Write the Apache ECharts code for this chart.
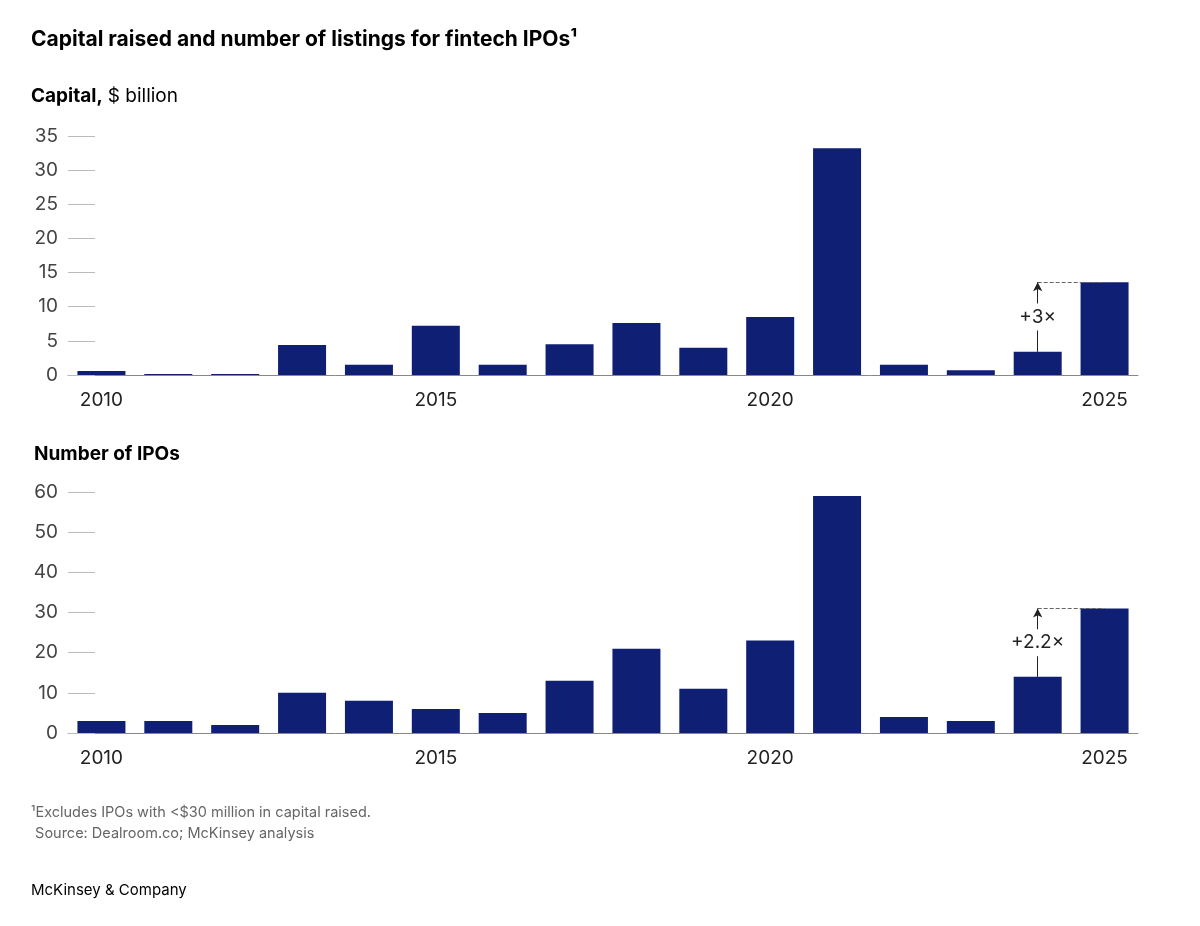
<!DOCTYPE html>
<html><head><meta charset="utf-8">
<script src="https://cdn.jsdelivr.net/npm/echarts@6/dist/echarts.min.js"></script>
<style>html,body{margin:0;background:#fff}#c{width:1200px;height:926px}</style>
</head><body><div id="c"></div>
<script>
const years=['2010','2011','2012','2013','2014','2015','2016','2017','2018','2019','2020','2021','2022','2023','2024','2025'];
const capital=[0.6,0.15,0.15,4.4,1.5,7.2,1.5,4.5,7.6,4.0,8.5,33.2,1.5,0.7,3.4,13.6];
const ipos=[3,3,2,10,8,6,5,13,21,11,23,59,4,3,14,31];
const F='Inter, "Noto Sans", sans-serif';
const C='#0f1f73';
const chart=echarts.init(document.getElementById('c'));
function xa(i){return {type:'category',gridIndex:i,data:years,
 axisLine:{lineStyle:{color:'#888',width:1}},axisTick:{show:false},
 axisLabel:{color:'#222',fontSize:19,fontFamily:F,margin:16,interval:0,
  formatter:v=>(['2010','2015','2020','2025'].includes(v)?v:'')}};}
function ya(i,max,int){return {type:'value',gridIndex:i,min:0,max:max,interval:int,
 splitLine:{show:false},axisLine:{show:false},
 axisTick:{show:true,inside:true,length:27,lineStyle:{color:'#bbb'}},
 axisLabel:{color:'#444',fontSize:19,fontFamily:F,margin:10}};}
function ml(v0,v1){return {symbol:['none','none'],silent:true,animation:false,label:{show:false},
 data:[
  [{coord:['2024',v1],lineStyle:{type:'dashed',color:'#666',width:1}},{coord:['2025',v1]}],
  [{coord:['2024',v0],symbol:'none',lineStyle:{type:'solid',color:'#222',width:1}},
   {coord:['2024',v1],symbol:'arrow',symbolSize:[7,9]}]
 ]};}
function mp(v0,v1,lab){return {silent:true,animation:false,symbol:'rect',symbolSize:[1,1],itemStyle:{color:'rgba(0,0,0,0)'},
 data:[{coord:['2024',(v0+v1)/2],label:{show:true,position:'inside',formatter:lab,color:'#222',fontSize:19,fontFamily:F,backgroundColor:'#fff',padding:[4,2]}}]};}
chart.setOption({
 animation:false,
 title:[
  {text:'Capital raised and number of listings for fintech IPOs¹',left:26,top:24,textStyle:{fontSize:21,fontWeight:'bold',color:'#000',fontFamily:F}},
  {text:'{b|Capital,} {n|$ billion}',left:26,top:82,textStyle:{rich:{b:{fontSize:19,fontWeight:'bold',color:'#000',fontFamily:F},n:{fontSize:19,fontWeight:'normal',color:'#000',fontFamily:F}}}},
  {text:'Number of IPOs',left:29,top:440,textStyle:{fontSize:19,fontWeight:'bold',color:'#000',fontFamily:F}},
  {text:'¹Excludes IPOs with <$30 million in capital raised.\n Source: Dealroom.co; McKinsey analysis',left:26,top:797,textStyle:{fontSize:14.5,color:'#666',fontFamily:F,lineHeight:21,fontWeight:'normal'}},
  {text:'McKinsey & Company',left:26,top:878,textStyle:{fontSize:15,color:'#000',fontFamily:F,fontWeight:'normal'}}
 ],
 grid:[{left:68,right:62,top:136,height:239},{left:68,right:62,top:492,height:241}],
 xAxis:[xa(0),xa(1)],
 yAxis:[ya(0,35,5),ya(1,60,10)],
 series:[
  {type:'bar',xAxisIndex:0,yAxisIndex:0,data:capital,barWidth:48,itemStyle:{color:C},markLine:ml(3.4,13.6),markPoint:mp(3.4,13.6,'+3×')},
  {type:'bar',xAxisIndex:1,yAxisIndex:1,data:ipos,barWidth:48,itemStyle:{color:C},markLine:ml(14,31),markPoint:mp(14,31,'+2.2×')}
 ]
});
</script></body></html>
